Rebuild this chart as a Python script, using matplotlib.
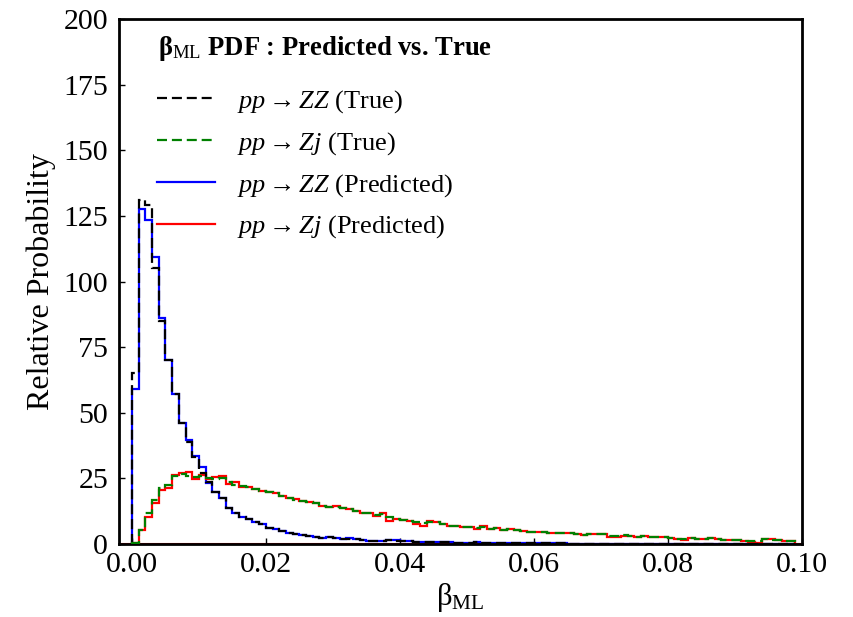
import numpy as np
import matplotlib
matplotlib.use('Agg')
import matplotlib.pyplot as plt
from matplotlib.lines import Line2D

plt.rcParams['font.family'] = 'serif'
plt.rcParams['font.serif'] = ['Liberation Serif', 'DejaVu Serif']
plt.rcParams['mathtext.fontset'] = 'custom'
plt.rcParams['mathtext.rm'] = 'Liberation Serif'
plt.rcParams['mathtext.it'] = 'Liberation Serif:italic'
plt.rcParams['mathtext.bf'] = 'Liberation Serif:bold'
plt.rcParams['mathtext.fallback'] = 'stix'

# bin edges: 0.001 wide bins from 0 to 0.099
bin_edges = np.arange(0, 0.0995, 0.001)

# pp -> ZZ (True), black dashed
zz_true = [
    65, 131, 129, 105, 85, 70, 57, 46, 39, 33,
    27, 23.5, 20, 17.4, 13.6, 11.7, 10.4, 9.4, 8.5, 7.6,
    6.2, 5.6, 5.1, 4.3, 3.8, 3.4, 3.0, 2.8, 2.4, 2.6,
    2.1, 2.0, 1.9, 1.8, 1.6, 1.3, 1.1, 1.0, 1.4, 1.2,
    1.0, 1.0, 0.9, 0.6, 0.8, 0.6, 0.8, 0.6, 0.5, 0.5,
    0.5, 0.6, 0.4, 0.4, 0.4, 0.35, 0.3, 0.3, 0.3, 0.25,
    0.25, 0.2, 0.2, 0.2, 0.2, 0.15, 0.15, 0.15, 0.15, 0.1,
    0.1, 0.1, 0.1, 0.1, 0.1, 0.1, 0.08, 0.08, 0.08, 0.08,
    0.06, 0.06, 0.06, 0.06, 0.06, 0.05, 0.05, 0.05, 0.05, 0.05,
    0.04, 0.04, 0.04, 0.04, 0.04, 0.03, 0.03, 0.03, 0.03,
]

# pp -> ZZ (Predicted), blue solid
zz_pred = [
    59, 127.5, 123.5, 109.5, 86, 70, 57, 46, 39.5, 33.5,
    29.5, 23.2, 20, 17.4, 13.6, 11.7, 10.4, 9.4, 8.5, 7.6,
    6.2, 5.6, 5.1, 4.3, 3.8, 3.4, 3.0, 2.8, 2.4, 2.8,
    2.2, 2.0, 2.1, 1.8, 1.6, 1.2, 1.0, 1.0, 1.5, 1.4,
    1.0, 1.0, 0.9, 0.6, 0.8, 0.6, 0.8, 0.6, 0.5, 0.5,
    0.5, 0.6, 0.4, 0.4, 0.4, 0.4, 0.3, 0.3, 0.3, 0.3,
    0.25, 0.2, 0.2, 0.2, 0.2, 0.15, 0.15, 0.15, 0.15, 0.1,
    0.1, 0.1, 0.1, 0.1, 0.1, 0.1, 0.08, 0.08, 0.08, 0.08,
    0.06, 0.06, 0.06, 0.06, 0.06, 0.05, 0.05, 0.05, 0.05, 0.05,
    0.04, 0.04, 0.04, 0.04, 0.04, 0.03, 0.03, 0.03, 0.03,
]

# pp -> Zj (True), green dashed
zj_true = [
    0.5, 5.5, 11.7, 16.8, 21.2, 22.5, 25.9, 26.5, 25.8, 25.5,
    25.8, 25.3, 24.8, 25.2, 23.7, 22.6, 22.1, 21.6, 20.8, 20.3,
    19.9, 19.3, 18.3, 17.4, 16.8, 16.5, 16.1, 15.5, 14.5, 14.2,
    14.0, 13.6, 13.2, 12.7, 11.9, 11.7, 11.2, 11.5, 10.2, 9.4,
    9.1, 8.9, 8.3, 8.1, 8.5, 8.5, 7.6, 6.9, 6.9, 6.6,
    6.3, 6.1, 6.3, 5.6, 6.0, 5.3, 5.6, 5.3, 4.9, 4.7,
    4.7, 4.7, 4.3, 4.1, 4.3, 4.2, 3.8, 3.6, 3.9, 3.7,
    3.7, 3.0, 3.0, 3.4, 3.0, 2.8, 2.9, 2.8, 2.8, 2.6,
    2.2, 1.9, 1.9, 2.2, 1.9, 1.9, 2.2, 1.9, 1.6, 1.6,
    1.6, 1.3, 1.3, 1.2, 1.9, 1.6, 1.5, 1.3, 1.1,
]

# pp -> Zj (Predicted), red solid
zj_pred = [
    0.5, 5.2, 10.4, 15.5, 20.6, 21.2, 26.3, 27.2, 27.6, 24.8,
    26.2, 24.6, 25.7, 25.8, 23.0, 23.5, 21.8, 21.6, 20.8, 20.3,
    19.9, 19.3, 18.3, 17.4, 17.0, 16.5, 16.1, 15.5, 14.5, 14.2,
    14.5, 13.6, 13.2, 12.7, 11.9, 11.7, 10.8, 11.9, 8.9, 9.4,
    9.1, 8.9, 7.6, 6.9, 8.9, 8.5, 7.6, 6.9, 6.9, 6.6,
    6.3, 5.8, 6.9, 5.6, 6.1, 5.3, 5.6, 5.3, 4.9, 4.7,
    4.7, 4.7, 4.3, 4.1, 4.3, 4.3, 3.8, 3.4, 3.7, 3.7,
    3.7, 2.5, 2.6, 3.2, 3.0, 2.8, 3.0, 2.8, 2.8, 2.6,
    2.2, 1.8, 1.7, 2.2, 1.9, 1.9, 2.4, 1.9, 1.5, 1.5,
    1.5, 1.3, 0.9, 0.5, 1.9, 2.0, 1.5, 1.3, 1.0,
]

x_ticks = [0.00, 0.02, 0.04, 0.06, 0.08, 0.10]
y_ticks = [0, 25, 50, 75, 100, 125, 150, 175, 200]

dash = (0, (4.5, 2.2))

fig = plt.figure(figsize=(8.54, 6.17), dpi=100)
ax = fig.add_axes([0.1388, 0.1183, 0.8, 0.8509])

# baseline line along y=0
ax.axhline(0, color='red', lw=1.5, zorder=1)

# predicted (solid) underneath, true (dashed) on top
ax.stairs(zz_pred, bin_edges, color='blue', lw=1.6, zorder=2)
ax.stairs(zj_pred, bin_edges, color='red', lw=1.6, zorder=2)
ax.stairs(zz_true, bin_edges, color='black', lw=1.6, linestyle=dash, zorder=3)
ax.stairs(zj_true, bin_edges, color='green', lw=1.6, linestyle=dash, zorder=3)

ax.set_xlim(-0.002, 0.1)
ax.set_ylim(0, 200)
ax.set_xticks(x_ticks)
ax.set_xticklabels([f'{t:.2f}' for t in x_ticks])
ax.set_yticks(y_ticks)
ax.tick_params(direction='in', length=4, width=1, labelsize=21.5, pad=6)
ax.tick_params(axis='y', pad=7.5)

for s in ax.spines.values():
    s.set_linewidth(2)

ax.set_xlabel(r'β$_{\mathrm{ML}}$', fontsize=22, labelpad=2)
ax.set_ylabel('Relative Probability', fontsize=23, labelpad=5)

# title inside the axes
ax.text(0.0578, 0.931, r'β$_{\mathrm{ML}}$ PDF : Predicted vs. True',
        transform=ax.transAxes, fontsize=19.2, fontweight='bold',
        ha='left', va='baseline')

handles = [
    Line2D([], [], color='black', lw=1.6, linestyle=dash),
    Line2D([], [], color='green', lw=1.6, linestyle=dash),
    Line2D([], [], color='blue', lw=1.6),
    Line2D([], [], color='red', lw=1.6),
]
labels = [
    r'$pp \rightarrow ZZ$ (True)',
    r'$pp \rightarrow Zj$ (True)',
    r'$pp \rightarrow ZZ$ (Predicted)',
    r'$pp \rightarrow Zj$ (Predicted)',
]
ax.legend(handles, labels, loc='upper left', bbox_to_anchor=(0.0564, 0.868),
          frameon=False, fontsize=19, handlelength=2.2, handletextpad=0.83,
          labelspacing=0.565, borderpad=0, borderaxespad=0)

fig.savefig('out.png', dpi=100)
